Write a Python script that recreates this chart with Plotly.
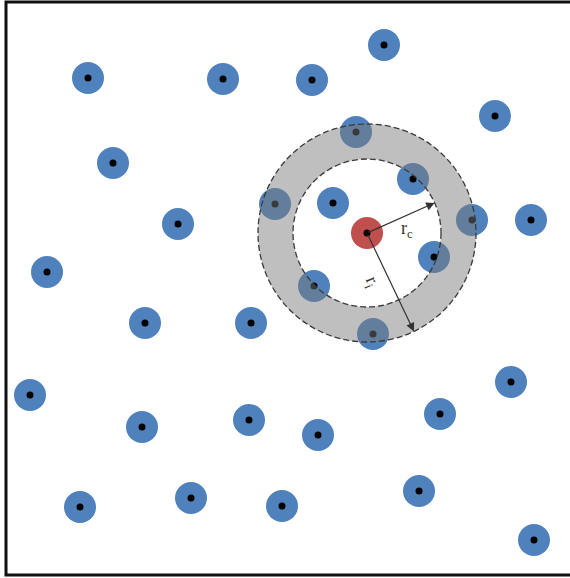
import numpy as np
import plotly.graph_objects as go

# Neighbour nodes (canvas pixel units, y grows downward)
node_x = [88, 223, 312, 384, 495, 356, 113, 413, 275, 333, 472, 531, 178, 47, 434,
          314, 145, 251, 373, 30, 511, 142, 249, 318, 440, 80, 191, 282, 419, 534]
node_y = [78, 79, 80, 45, 116, 132, 163, 179, 204, 203, 220, 220, 224, 272, 257,
          286, 323, 323, 334, 395, 382, 427, 420, 435, 414, 507, 498, 506, 491, 540]

# Focal node and its two sensing radii
center_x, center_y = 367, 233
r_inner = 74          # r_c
r_outer = 109         # r_i
arrow_angles = [-24, 64.5]   # degrees, screen orientation
arrow_radii = [r_inner, r_outer]
arrow_labels = ["r<sub>c</sub>", "r<sub>i</sub>"]

BLUE = "#4f81bd"
RED = "#c0504d"

fig = go.Figure()

fig.add_trace(go.Scatter(
    x=node_x, y=node_y, mode="markers",
    marker=dict(size=32, color=BLUE, line=dict(width=0)),
    hoverinfo="skip", showlegend=False))
fig.add_trace(go.Scatter(
    x=[center_x], y=[center_y], mode="markers",
    marker=dict(size=32, color=RED, line=dict(width=0)),
    hoverinfo="skip", showlegend=False))
fig.add_trace(go.Scatter(
    x=node_x + [center_x], y=node_y + [center_y], mode="markers",
    marker=dict(size=7, color="black", line=dict(width=0)),
    hoverinfo="skip", showlegend=False))


def ring(r, n=180):
    t = np.linspace(0, 2 * np.pi, n, endpoint=False)
    pts = [f"{center_x + r * np.cos(a):.2f},{center_y + r * np.sin(a):.2f}" for a in t]
    return "M" + " L".join(pts) + " Z"


# Grey annulus between the two radii
fig.add_shape(type="path", path=ring(r_outer) + " " + ring(r_inner),
              fillrule="evenodd", fillcolor="rgba(121,121,121,0.48)",
              line=dict(width=0), layer="above", xref="x", yref="y")
for r in (r_outer, r_inner):
    fig.add_shape(type="circle", xref="x", yref="y",
                  x0=center_x - r, x1=center_x + r, y0=center_y - r, y1=center_y + r,
                  line=dict(color="#3a3a3a", width=1.3, dash="6px,3px"),
                  fillcolor="rgba(0,0,0,0)", layer="above")

# Radius arrows
for ang, r in zip(arrow_angles, arrow_radii):
    a = np.deg2rad(ang)
    fig.add_annotation(
        x=center_x + r * np.cos(a), y=center_y + r * np.sin(a),
        ax=center_x, ay=center_y, xref="x", yref="y", axref="x", ayref="y",
        showarrow=True, arrowhead=2, arrowsize=1.4, arrowwidth=1.2,
        arrowcolor="#333333", text="")

fig.add_annotation(x=407, y=229, xref="x", yref="y", text=arrow_labels[0],
                   showarrow=False,
                   font=dict(family="Liberation Serif", size=18, color="#333333"))
fig.add_annotation(x=372, y=282, xref="x", yref="y", text=arrow_labels[1],
                   showarrow=False, textangle=68,
                   font=dict(family="Liberation Serif", size=18, color="#333333"))

# Frame
fig.add_shape(type="rect", xref="x", yref="y", x0=6, x1=600, y0=2, y1=575,
              line=dict(color="#111111", width=3), layer="above")

fig.update_xaxes(range=[0, 570], visible=False, fixedrange=True)
fig.update_yaxes(range=[578, 0], visible=False, fixedrange=True)
fig.update_layout(width=570, height=578, margin=dict(l=0, r=0, t=0, b=0),
                  plot_bgcolor="white", paper_bgcolor="white", showlegend=False)

fig.write_html("out.html")
